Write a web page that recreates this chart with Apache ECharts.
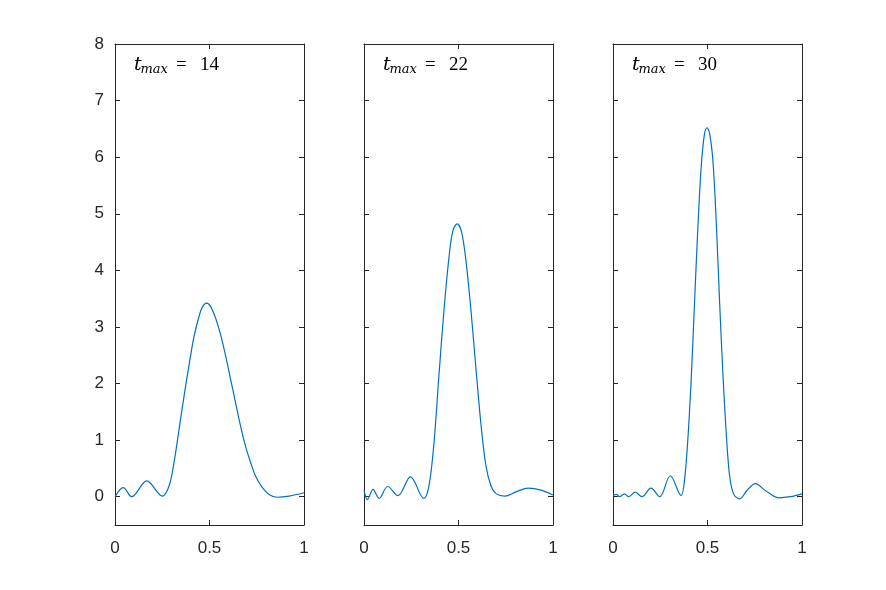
<!DOCTYPE html>
<html>
<head>
<meta charset="utf-8">
<script src="https://cdn.jsdelivr.net/npm/echarts@6/dist/echarts.min.js"></script>
<style>html,body{margin:0;padding:0;background:#fff}#c{width:886px;height:590px}</style>
</head>
<body>
<div id="c"></div>
<script>
// ---- data ----
var panelLabels = ['14', '22', '30'];
var yTickValues = [0, 1, 2, 3, 4, 5, 6, 7, 8];
var xTickValues = [0, 0.5, 1];

var x1 = [0, 0.044, 0.088, 0.168, 0.25, 0.286, 0.312, 0.339, 0.365, 0.392, 0.418, 0.444, 0.462, 0.485, 0.506, 0.533, 0.559, 0.586, 0.612, 0.638, 0.665, 0.691, 0.718, 0.744, 0.780, 0.815, 0.859, 0.921, 1];
var y1 = [0, 0.16, 0, 0.28, 0.01, 0.19, 0.60, 1.19, 1.77, 2.33, 2.83, 3.18, 3.35, 3.42, 3.36, 3.15, 2.86, 2.48, 2.07, 1.66, 1.24, 0.89, 0.60, 0.36, 0.16, 0.04, -0.01, 0.01, 0.07];

var x2 = [0, 0.018, 0.048, 0.080, 0.125, 0.179, 0.246, 0.316, 0.343, 0.37, 0.396, 0.423, 0.45, 0.471, 0.493, 0.516, 0.539, 0.566, 0.593, 0.620, 0.646, 0.673, 0.70, 0.745, 0.807, 0.870, 0.932, 1];
var y2 = [0.12, -0.05, 0.13, -0.03, 0.18, 0.02, 0.35, -0.03, 0.18, 0.94, 2.12, 3.29, 4.24, 4.71, 4.82, 4.68, 4.18, 3.29, 2.24, 1.24, 0.53, 0.18, 0.05, 0.01, 0.09, 0.15, 0.12, 0.03];

var x3 = [0, 0.018, 0.035, 0.06, 0.083, 0.118, 0.153, 0.201, 0.247, 0.303, 0.36, 0.377, 0.395, 0.413, 0.43, 0.448, 0.466, 0.483, 0.497, 0.511, 0.529, 0.547, 0.564, 0.582, 0.60, 0.617, 0.638, 0.670, 0.709, 0.753, 0.806, 0.877, 0.938, 1];
var y3 = [0.02, 0.04, 0, 0.05, 0, 0.08, 0, 0.15, 0, 0.37, 0.02, 0.25, 0.96, 2.02, 3.32, 4.68, 5.80, 6.39, 6.52, 6.42, 5.92, 4.80, 3.44, 2.14, 1.08, 0.37, 0.05, -0.04, 0.11, 0.23, 0.11, -0.02, 0.00, 0.05];

// ---- build ----
function pairs(xs, ys) { return xs.map(function (x, i) { return [x, ys[i]]; }); }
var seriesData = [pairs(x1, y1), pairs(x2, y2), pairs(x3, y3)];

var gridLefts = [115, 364, 613];
var gridWidth = 189;
var gridTop = 44;
var gridHeight = 481;
var axisColor = '#262626';
var lineStyle = { color: axisColor, width: 1 };
var labelFont = { fontFamily: 'Liberation Sans, Arial, sans-serif', fontSize: 17, color: axisColor };

var grids = [], xAxes = [], yAxes = [], series = [], graphics = [];
gridLefts.forEach(function (left, i) {
  grids.push({ left: left, top: gridTop, width: gridWidth, height: gridHeight, show: false });
  ['bottom', 'top'].forEach(function (pos) {
    xAxes.push({
      gridIndex: i, type: 'value', position: pos, min: 0, max: 1,
      axisLine: { show: true, onZero: false, lineStyle: lineStyle },
      axisTick: { show: true, inside: true, length: 5, lineStyle: lineStyle, customValues: xTickValues },
      axisLabel: Object.assign({ show: pos === 'bottom', margin: 15, customValues: xTickValues,
        formatter: function (v) { return String(v); } }, labelFont),
      splitLine: { show: false }
    });
  });
  ['left', 'right'].forEach(function (pos) {
    yAxes.push({
      gridIndex: i, type: 'value', position: pos, min: -0.5, max: 8,
      axisLine: { show: true, onZero: false, lineStyle: lineStyle },
      axisTick: { show: true, inside: true, length: 5, lineStyle: lineStyle, customValues: yTickValues },
      axisLabel: Object.assign({ show: pos === 'left' && i === 0, margin: 11, customValues: yTickValues }, labelFont),
      splitLine: { show: false }
    });
  });
  series.push({
    type: 'line', xAxisIndex: i * 2, yAxisIndex: i * 2, data: seriesData[i],
    smooth: 0.35, showSymbol: false, symbol: 'none',
    lineStyle: { color: '#0072BD', width: 1.2 }, animation: false
  });
  var ox = left + 19;
  graphics.push(
    { type: 'text', left: ox, top: 56, style: { text: 't', font: 'italic 19px "DejaVu Serif", serif', fill: '#000' } },
    { type: 'text', left: ox + 6.5, top: 63, style: { text: 'max', font: 'italic 13px "DejaVu Serif", serif', fill: '#000' } },
    { type: 'text', left: ox + 42, top: 56, style: { text: '=', font: '19px "Liberation Serif", serif', fill: '#000' } },
    { type: 'text', left: ox + 66, top: 56, style: { text: panelLabels[i], font: '19px "Liberation Serif", serif', fill: '#000' } }
  );
});

var chart = echarts.init(document.getElementById('c'), null, { renderer: 'canvas' });
chart.setOption({
  animation: false,
  backgroundColor: '#ffffff',
  grid: grids, xAxis: xAxes, yAxis: yAxes, series: series, graphic: graphics
});
</script>
</body>
</html>
